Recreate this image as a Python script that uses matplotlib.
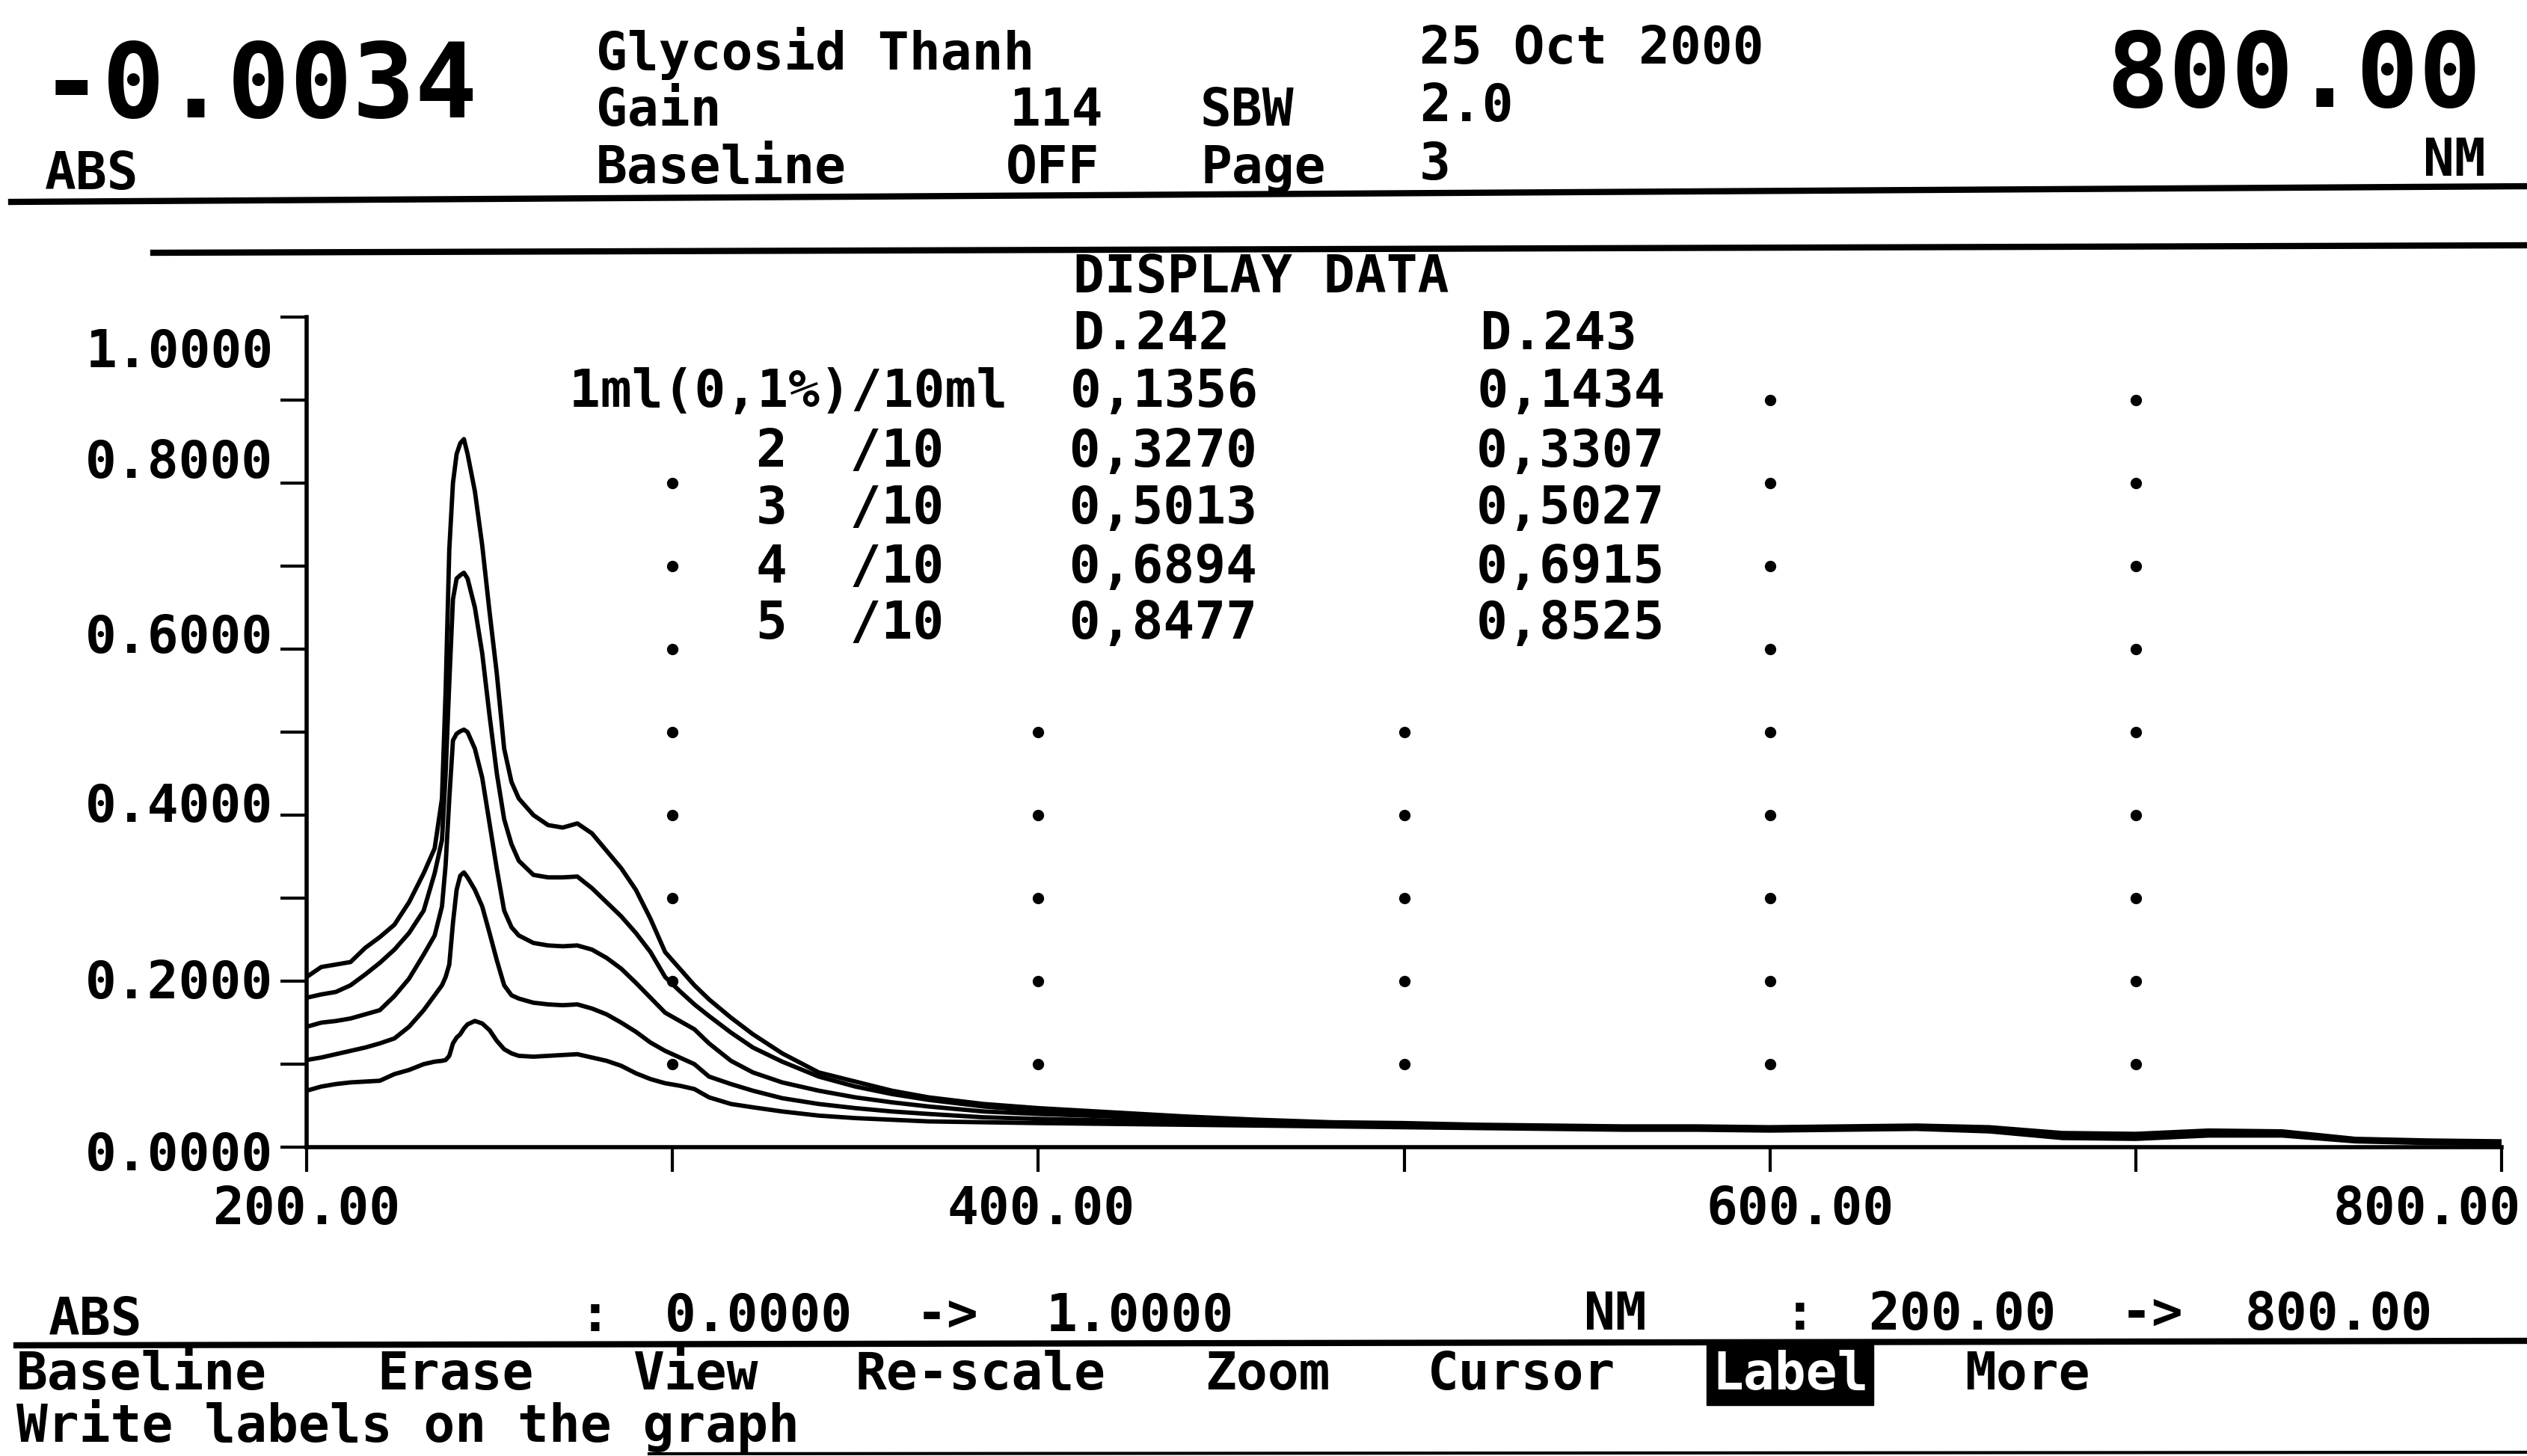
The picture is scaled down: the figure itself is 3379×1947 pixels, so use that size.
import numpy as np
import matplotlib.pyplot as plt
from matplotlib.lines import Line2D
from matplotlib.transforms import ScaledTranslation

W, H = 3380, 1947  # output size in pixels (dpi 100)
MONO = 'DejaVu Sans Mono'

# wavelength grid (nm) and the five traced spectra (ABS)
wl = [200, 204, 208, 212, 216, 220, 224, 228, 232,
      235, 237, 238, 239, 240, 241, 242, 243, 244,
      246, 248, 250, 252, 254, 256, 258,
      262, 266, 270, 274, 278, 282, 286, 290, 294, 298,
      302, 306, 310, 316, 322, 330, 340, 350, 360, 370,
      385, 400, 420, 440, 460, 480, 500, 520, 540, 560,
      580, 600, 620, 640, 660, 680, 700, 720, 740, 760,
      780, 800]

abs_5 = [0.205, 0.217, 0.220, 0.223, 0.240, 0.253, 0.268, 0.295, 0.330,
         0.360, 0.420, 0.550, 0.720, 0.800, 0.835, 0.848, 0.853, 0.835,
         0.790, 0.725, 0.645, 0.570, 0.480, 0.440, 0.420,
         0.400, 0.388, 0.385, 0.390, 0.378, 0.357, 0.336, 0.310, 0.275, 0.235,
         0.215, 0.195, 0.178, 0.156, 0.136, 0.113, 0.090, 0.079, 0.068, 0.060,
         0.052, 0.047, 0.042, 0.037, 0.033, 0.030, 0.029, 0.027, 0.026, 0.025,
         0.025, 0.024, 0.025, 0.026, 0.024, 0.017, 0.016, 0.020, 0.019, 0.010,
         0.008, 0.007]

abs_4 = [0.180, 0.184, 0.187, 0.195, 0.208, 0.222, 0.238, 0.258, 0.285,
         0.330, 0.370, 0.450, 0.560, 0.660, 0.685, 0.689, 0.692, 0.685,
         0.650, 0.595, 0.520, 0.450, 0.395, 0.365, 0.345,
         0.328, 0.325, 0.325, 0.326, 0.312, 0.295, 0.278, 0.258, 0.235, 0.205,
         0.188, 0.172, 0.158, 0.138, 0.120, 0.103, 0.085, 0.073, 0.064, 0.057,
         0.049, 0.044, 0.040, 0.035, 0.032, 0.029, 0.028, 0.026, 0.025, 0.024,
         0.024, 0.023, 0.024, 0.025, 0.022, 0.015, 0.014, 0.018, 0.017, 0.009,
         0.007, 0.006]

abs_3 = [0.145, 0.150, 0.152, 0.155, 0.160, 0.165, 0.182, 0.203, 0.232,
         0.255, 0.290, 0.340, 0.420, 0.490, 0.498, 0.501, 0.503, 0.500,
         0.480, 0.445, 0.390, 0.335, 0.285, 0.265, 0.255,
         0.246, 0.243, 0.242, 0.243, 0.238, 0.228, 0.215, 0.198, 0.180, 0.162,
         0.152, 0.142, 0.125, 0.104, 0.090, 0.078, 0.068, 0.060, 0.054, 0.049,
         0.043, 0.040, 0.037, 0.033, 0.031, 0.028, 0.027, 0.025, 0.024, 0.023,
         0.023, 0.022, 0.023, 0.024, 0.021, 0.013, 0.012, 0.017, 0.016, 0.009,
         0.006, 0.005]

abs_2 = [0.105, 0.108, 0.112, 0.116, 0.120, 0.125, 0.131, 0.145, 0.165,
         0.183, 0.195, 0.205, 0.220, 0.270, 0.310, 0.327, 0.331, 0.325,
         0.310, 0.290, 0.258, 0.225, 0.195, 0.183, 0.179,
         0.174, 0.172, 0.171, 0.172, 0.167, 0.160, 0.150, 0.139, 0.126, 0.116,
         0.108, 0.100, 0.085, 0.076, 0.068, 0.059, 0.052, 0.047, 0.043, 0.040,
         0.036, 0.034, 0.032, 0.030, 0.029, 0.027, 0.026, 0.024, 0.023, 0.022,
         0.022, 0.021, 0.022, 0.023, 0.020, 0.012, 0.011, 0.015, 0.015, 0.008,
         0.006, 0.005]

abs_1 = [0.068, 0.073, 0.076, 0.078, 0.079, 0.080, 0.088, 0.093, 0.100,
         0.103, 0.104, 0.105, 0.110, 0.125, 0.132, 0.136, 0.143, 0.148,
         0.152, 0.149, 0.141, 0.128, 0.118, 0.113, 0.110,
         0.109, 0.110, 0.111, 0.112, 0.108, 0.104, 0.098, 0.089, 0.082, 0.077,
         0.074, 0.070, 0.060, 0.052, 0.048, 0.043, 0.038, 0.035, 0.033, 0.031,
         0.030, 0.029, 0.028, 0.027, 0.026, 0.025, 0.024, 0.023, 0.022, 0.021,
         0.021, 0.020, 0.021, 0.022, 0.019, 0.011, 0.010, 0.014, 0.014, 0.007,
         0.005, 0.004]

# dotted grid marks of the instrument display
dot_x = [300, 400, 500, 600, 700]
dot_y = [0.1, 0.2, 0.3, 0.4, 0.5, 0.6, 0.7, 0.8, 0.9]

# axis ticks
x_major = [200, 400, 600, 800]
x_labels = ['200.00', '400.00', '600.00', '800.00']
x_minor = [300, 500, 700]
y_major = [0.0, 0.2, 0.4, 0.6, 0.8, 1.0]
y_labels = ['0.0000', '0.2000', '0.4000', '0.6000', '0.8000', '1.0000']
y_minor = [0.1, 0.3, 0.5, 0.7, 0.9]

# display data table
conc_labels = ['1ml(0,1%)/10ml', '2  /10', '3  /10', '4  /10', '5  /10']
abs_242 = ['0,1356', '0,3270', '0,5013', '0,6894', '0,8477']
abs_243 = ['0,1434', '0,3307', '0,5027', '0,6915', '0,8525']

plt.rcParams['font.family'] = MONO
plt.rcParams['font.weight'] = 'bold'

fig = plt.figure(figsize=(W / 100, H / 100), dpi=100)
fig.patch.set_facecolor('white')


def fx(px):
    return px / W


def fy(py):
    return 1 - py / H


def put(x, y, s, size=50, va='baseline', ha='left', color='black', **kw):
    return fig.text(fx(x), fy(y), s, fontsize=size, va=va, ha=ha,
                    family=MONO, weight='bold', color=color, **kw)


ax = fig.add_axes([fx(410), fy(1534), (3345 - 410) / W, (1534 - 424) / H])
ax.set_facecolor('white')

gx, gy = np.meshgrid(dot_x, dot_y)
ax.plot(gx.ravel(), gy.ravel(), 'o', ms=10, color='black', zorder=2)

for ys in (abs_1, abs_2, abs_3, abs_4, abs_5):
    ax.plot(wl, ys, color='black', lw=4.2, zorder=3)

ax.set_xlim(200, 800)
ax.set_ylim(0, 1)
for side in ('top', 'right'):
    ax.spines[side].set_visible(False)
for side in ('left', 'bottom'):
    ax.spines[side].set_linewidth(4)

ax.set_xticks(x_major)
ax.set_xticklabels(x_labels)
ax.set_xticks(x_minor, minor=True)
ax.set_yticks(y_major)
ax.set_yticklabels(y_labels)
ax.set_yticks(y_minor, minor=True)
ax.tick_params(axis='both', which='both', direction='out', width=3, color='black')
ax.tick_params(axis='x', which='both', length=24, pad=12, labelsize=50)
ax.tick_params(axis='y', which='both', length=25, pad=7, labelsize=50)

# the printer places labels on its text grid, not exactly on the ticks
x_shift = [0, 4, 40, -100]
for lab, dx in zip(ax.get_xticklabels(), x_shift):
    lab.set_transform(lab.get_transform() + ScaledTranslation(dx / 100, 0, fig.dpi_scale_trans))
y_shift = [-4, 4, 18, 21, 33, -40]
for lab, dy in zip(ax.get_yticklabels(), y_shift):
    lab.set_transform(lab.get_transform() + ScaledTranslation(0, dy / 100, fig.dpi_scale_trans))

# header
put(54, 157, '-0.0034', size=100)
put(3318, 143, '800.00', size=100, ha='right')
put(60, 253, 'ABS')
put(3324, 235, 'NM', ha='right')
put(797, 93, 'Glycosid Thanh')
put(797, 168, 'Gain')
put(1350, 168, '114')
put(1605, 168, 'SBW')
put(797, 245, 'Baseline')
put(1345, 245, 'OFF')
put(1606, 245, 'Page')
put(1898, 85, '25 Oct 2000')
put(1898, 162, '2.0')
put(1898, 240, '3')

fig.add_artist(Line2D([fx(15), fx(3380)], [fy(270), fy(249)], color='black', lw=6))
fig.add_artist(Line2D([fx(205), fx(3380)], [fy(338), fy(328)], color='black', lw=6))

# display data table (rows blank out the grid dots behind them)
box = dict(facecolor='white', edgecolor='none', pad=8)
put(1435, 371, 'DISPLAY DATA', va='center')
put(1435, 448, 'D.242        D.243', va='center', bbox=box)
row_y = [524, 604, 681, 759, 834]
for i, (lab, a, b) in enumerate(zip(conc_labels, abs_242, abs_243)):
    if i == 0:
        put(761, row_y[i], f'{lab}  {a}       {b}', va='center', bbox=box)
    else:
        put(1011, row_y[i], f'{lab}    {a}       {b}', va='center', bbox=box)

# footer
put(65, 1785, 'ABS')
put(775, 1780, ':')
put(889, 1780, '0.0000')
put(1225, 1780, '->')
put(1399, 1780, '1.0000')
put(2118, 1778, 'NM')
put(2386, 1778, ':')
put(2498, 1778, '200.00')
put(2836, 1778, '->')
put(3002, 1778, '800.00')
fig.add_artist(Line2D([fx(22), fx(3380)], [fy(1799), fy(1793)], color='black', lw=6))

menu = ['Baseline', 'Erase', 'View', 'Re-scale', 'Zoom', 'Cursor', 'Label', 'More']
menu_x = [22, 504, 846, 1144, 1611, 1909, 2289, 2627]
for name, mx in zip(menu, menu_x):
    if name == 'Label':
        put(mx, 1858, name, color='white',
            bbox=dict(facecolor='black', edgecolor='black', pad=5))
    else:
        put(mx, 1858, name)
put(22, 1928, 'Write labels on the graph')
fig.add_artist(Line2D([fx(868), fx(3380)], [fy(1944), fy(1942)], color='black', lw=3))

fig.savefig('out.png', dpi=100)
